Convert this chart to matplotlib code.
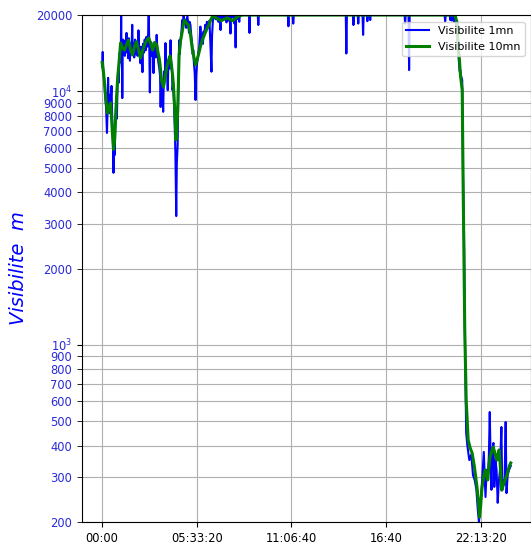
import matplotlib
matplotlib.use("Agg")
import matplotlib.pyplot as plt
from matplotlib.ticker import FixedLocator, FuncFormatter

# ---- data: minutes since 00:00 and visibility (m) ----
t1_min = [0, 2, 4, 6, 8, 10, 12, 14, 17, 19, 21, 23, 25, 27, 29, 31, 33, 35, 37, 39, 40, 42, 44, 46, 48,
          50, 52, 54, 56, 58, 60, 62, 64, 66, 67, 68, 70, 71, 72, 74, 76, 78, 80, 83, 86, 88, 90, 92, 94,
          96, 98, 100, 103, 106, 108, 110, 113, 116, 119, 122, 125, 128, 130, 133, 135, 137, 140, 142,
          144, 147, 150, 153, 156, 159, 162, 164, 166, 168, 170, 173, 176, 178, 181, 183, 186, 189, 192,
          195, 198, 201, 204, 206, 208, 211, 213, 215, 217, 219, 221, 223, 225, 228, 231, 233, 236, 238,
          241, 243, 246, 248, 250, 253, 256, 258, 261, 263, 266, 268, 270, 271, 273, 276, 279, 282, 284,
          287, 290, 293, 296, 300, 303, 306, 308, 311, 314, 317, 319, 321, 323, 326, 329, 331, 334, 336,
          339, 342, 344, 346, 349, 352, 355, 357, 360, 363, 366, 369, 372, 375, 378, 381, 385, 387, 390,
          393, 396, 399, 402, 405, 409, 413, 417, 419, 423, 427, 431, 434, 438, 441, 446, 449, 452, 454,
          458, 462, 466, 468, 470, 472, 476, 479, 483, 485, 487,
          517, 519, 521, 548, 550, 552, 654, 656, 658, 671, 673, 675, 858, 860, 862, 883, 885, 887,
          900, 902, 904, 917, 919, 921, 932, 934, 936, 942, 944, 946, 1065, 1067, 1069, 1079, 1081, 1083,
          1206, 1208, 1210, 1224, 1226, 1228, 1232, 1236, 1240, 1244, 1247, 1250, 1252, 1254, 1256,
          1259, 1261, 1264, 1268, 1271, 1275, 1278, 1282, 1286, 1293, 1300, 1306, 1312, 1318, 1323,
          1327, 1331, 1335, 1340, 1344, 1347, 1350, 1354, 1358, 1362, 1365, 1368, 1371, 1374, 1378,
          1381, 1385, 1389, 1393, 1397, 1401, 1406, 1409, 1413, 1417, 1421, 1424, 1428, 1433, 1439]
vis_1mn = [12500, 14300, 12200, 11500, 10800, 9800, 9200, 8600, 6850, 8300, 11300, 9000, 8200, 9700, 8500,
           9400, 10500, 8300, 7000, 5800, 4770, 6300, 5600, 7200, 8200,
           9400, 7800, 10500, 11800, 10800, 12600, 14200, 13000, 15200, 20000, 15000, 14800, 9400, 14500,
           16000, 14000, 15800, 13800, 15400, 17000, 14200, 15800, 13500, 16200,
           14600, 13200, 15500, 14000, 18300, 14200, 15400, 13600, 16000, 14000, 15000, 13800, 17400,
           14800, 13600, 12900, 15000, 14200, 11900,
           15400, 14200, 16000, 14500, 16400, 15000, 16800, 20000, 15500, 9900, 14000, 15600, 13800,
           15000, 11800, 14300, 15400, 13600, 16700,
           14200, 13000, 12400, 11500, 8670, 11200, 10400, 9600, 8300, 11000, 12000, 11300, 15500, 12400,
           12900, 10100, 12600, 13500, 12300,
           15900, 13200, 12000, 10100, 10800, 9000, 7000, 5700, 3220, 5200, 6200, 9500, 12000, 15900,
           14000, 15800, 17000, 19100, 18000,
           20000, 18500, 19200, 17800, 20000, 18400, 17000, 18800, 18260, 16500, 15400, 14000, 14550,
           13000, 11800, 9240, 11500, 12800, 13300,
           14200, 15000, 16500, 18000, 15800, 16800, 15400, 17200, 16700, 18300, 17200, 18800, 17800,
           18260, 19000, 15500, 11950, 16500, 19000,
           20000, 19400, 20000, 19200, 20000, 18800, 20000, 17450, 20000, 19300, 20000, 19500, 20000,
           18700, 20000, 19000, 20000, 16900, 20000,
           19600, 20000, 18500, 20000, 14900, 20000, 19300, 20000, 18800, 20000, 20000,
           20000, 17000, 20000, 20000, 18260, 20000, 20000, 18060, 20000, 20000, 18500, 20000, 20000,
           14100, 20000, 20000, 18260, 20000,
           20000, 18500, 20000, 20000, 16700, 20000, 20000, 18900, 20000, 20000, 19100, 20000, 20000,
           18500, 20000, 20000, 12130, 20000,
           20000, 18900, 20000, 20000, 19100, 20000, 19000, 20000, 18800, 19500, 18200, 19000, 16000,
           15500, 13290,
           12000, 12130, 11500, 11080, 4590, 2370, 954, 449, 402, 351, 369, 306, 293, 268, 223,
           200, 234, 256, 321, 378, 306, 251, 321, 293, 369, 543, 351, 268, 385, 410,
           275, 351, 321, 238, 288, 321, 474, 267, 293, 281, 496, 260, 306, 321, 333]

t10_min = [0, 5, 9, 14, 19, 25, 30, 35, 40, 44, 47, 51, 55, 60, 65, 72, 79, 86, 93, 100, 107, 114, 121,
           128, 135, 142, 149, 156, 164, 171, 178, 185, 192, 197, 202, 206, 209, 213, 216, 220, 223, 228,
           234, 239, 244, 248, 251, 256, 260, 263, 266, 269, 271, 276, 280, 285, 290, 297, 304, 311, 318,
           324, 329, 334, 339, 346, 353, 360, 367, 375, 382, 387, 392, 400, 420, 440, 460, 480, 495,
           1243, 1250, 1254, 1257, 1262, 1268, 1271, 1277, 1282, 1289, 1296, 1303, 1311, 1320, 1325,
           1329, 1333, 1337, 1343, 1349, 1354, 1358, 1362, 1366, 1372, 1377, 1384, 1390, 1394, 1398,
           1403, 1407, 1413, 1419, 1425, 1430, 1435, 1439]
vis_10mn = [13000, 11800, 10600, 9100, 8210, 8700, 9000, 7200, 5900, 6400, 7710, 9600, 11390, 13200, 15500,
            14800, 14550, 15300, 15940, 14600, 13910, 15000, 15700,
            14600, 13530, 14400, 15220, 15800, 16250, 15400, 14550, 15600, 15220, 14200, 13290, 12100,
            11080, 10700, 10400, 11000, 11590, 12500,
            13290, 13800, 12700, 11600, 10600, 8400, 6430, 7000, 8440, 11200, 13910, 15800, 16690, 18000,
            19100, 18600, 18260, 16800, 14550,
            13500, 12700, 13300, 13910, 15000, 15940, 16700, 17450, 18200, 19100, 19600, 20000, 19500,
            19000, 19500, 19000, 19800, 20000,
            20000, 18500, 14550, 13910, 11500, 10120, 4590, 1144, 606, 421, 392, 374, 330, 275, 240,
            209, 232, 268, 300, 321, 305, 293, 330, 361, 380, 395, 372, 351, 368, 385,
            320, 267, 280, 293, 305, 321, 335, 342]

x_ticks_s = [0, 20000, 40000, 60000, 80000]
y_major = [1e3, 1e4]
y_minor = [200, 300, 400, 500, 600, 700, 800, 900, 2000, 3000, 4000, 5000, 6000, 7000, 8000, 9000, 20000]

label_1 = "Visibilite 1mn"
label_10 = "Visibilite 10mn"
y_label = "Visibilite  m"

# ---- plot ----
fig = plt.figure(figsize=(5.31, 5.42), dpi=100)
ax = fig.add_axes([81.7 / 531, 20 / 542, (531.2 - 81.7) / 531, 507 / 542])

t1_s = [m * 60 for m in t1_min]
t10_s = [m * 60 for m in t10_min]
ax.plot(t1_s, vis_1mn, color="blue", lw=1.5, label=label_1)
ax.plot(t10_s, vis_10mn, color="green", lw=2.2, label=label_10)

ax.set_yscale("log")
ax.set_ylim(200, 20000)
ax.margins(x=0.05)

ax.yaxis.set_major_locator(FixedLocator(y_major))
ax.yaxis.set_minor_locator(FixedLocator(y_minor))
ax.yaxis.set_minor_formatter(FuncFormatter(lambda v, p: f"{int(round(v))}"))

def fmt_time(v, pos):
    s = int(round(v))
    h, rem = divmod(s, 3600)
    m, sec = divmod(rem, 60)
    if sec == 0:
        return f"{h:02d}:{m:02d}"
    return f"{h:02d}:{m:02d}:{sec:02d}"

ax.xaxis.set_major_locator(FixedLocator(x_ticks_s))
ax.xaxis.set_major_formatter(FuncFormatter(fmt_time))

ax.tick_params(axis="both", which="both", labelsize=8.3)
ax.tick_params(axis="y", which="both", labelcolor="#2a2ad8", length=3.5)
ax.grid(True, which="major", axis="both", color="#b0b0b0", lw=0.8)
ax.grid(True, which="minor", axis="y", color="#b0b0b0", lw=0.8)

ax.set_ylabel(y_label, color="blue", fontsize=14, style="italic")
ax.yaxis.set_label_coords(-0.12, 0.5)

leg = ax.legend(loc="upper right", fontsize=8, borderaxespad=0.6)

fig.savefig("out.png", dpi=100)
